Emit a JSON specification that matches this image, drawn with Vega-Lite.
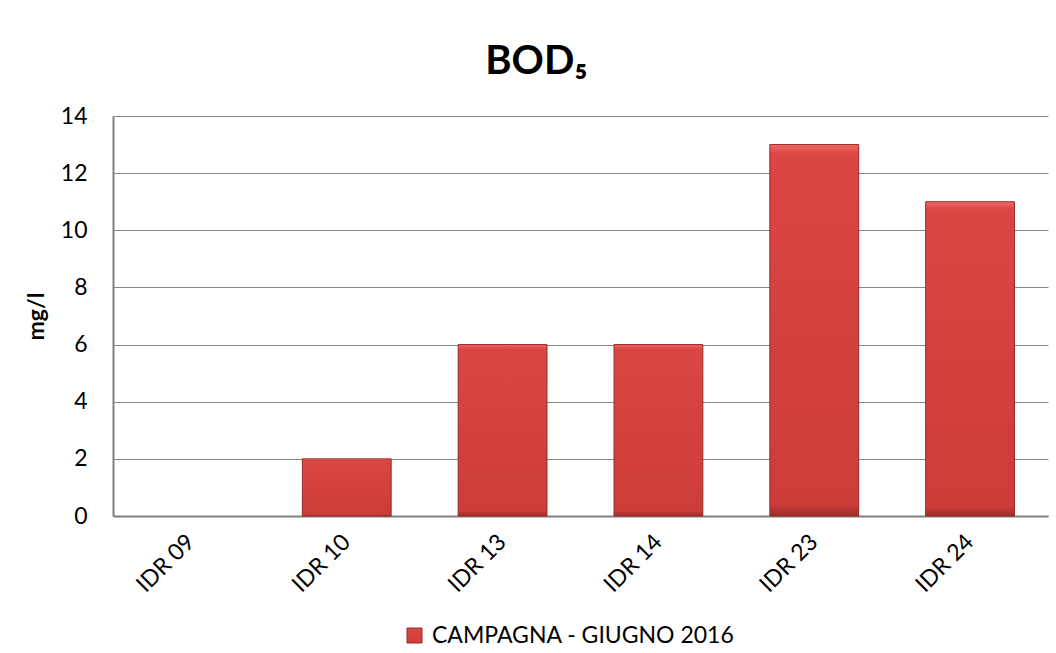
{
  "$schema": "https://vega.github.io/schema/vega-lite/v6.json",
  "autosize": "none",
  "padding": {"left": 113, "top": 116, "right": 8, "bottom": 137},
  "width": 935,
  "height": 400,
  "background": "white",
  "title": {
    "text": "BOD₅",
    "font": "Lato",
    "fontSize": 40,
    "fontWeight": "bold",
    "color": "#000000",
    "anchor": "middle",
    "baseline": "alphabetic",
    "offset": 41,
    "dx": -44,
    "dy": 50
  },
  "data": {
    "values": [
      {"site": "IDR 09", "value": 0, "series": "CAMPAGNA - GIUGNO 2016"},
      {"site": "IDR 10", "value": 2, "series": "CAMPAGNA - GIUGNO 2016"},
      {"site": "IDR 13", "value": 6, "series": "CAMPAGNA - GIUGNO 2016"},
      {"site": "IDR 14", "value": 6, "series": "CAMPAGNA - GIUGNO 2016"},
      {"site": "IDR 23", "value": 13, "series": "CAMPAGNA - GIUGNO 2016"},
      {"site": "IDR 24", "value": 11, "series": "CAMPAGNA - GIUGNO 2016"}
    ]
  },
  "mark": {
    "type": "bar",
    "strokeWidth": 1,
    "fill": {
      "gradient": "linear",
      "x1": 0, "y1": 0, "x2": 0, "y2": 1,
      "stops": [
        {"offset": 0, "color": "#ee6a66"},
        {"offset": 0.025, "color": "#da4643"},
        {"offset": 0.97, "color": "#cc3c39"},
        {"offset": 1, "color": "#9e2b29"}
      ]
    }
  },
  "encoding": {
    "x": {
      "field": "site",
      "type": "nominal",
      "sort": null,
      "scale": {"paddingInner": 0.43, "paddingOuter": 0.215},
      "axis": {
        "title": null,
        "labelAngle": -45,
        "labelAlign": "right",
        "labelBaseline": "middle",
        "labelFont": "Lato",
        "labelFontSize": 23,
        "labelColor": "#000000",
        "labelPadding": 22,
        "ticks": false,
        "domainColor": "#7f7f7f",
        "domainWidth": 2,
        "grid": false
      }
    },
    "y": {
      "field": "value",
      "type": "quantitative",
      "scale": {"domain": [0, 14], "nice": false},
      "axis": {
        "title": "mg/l",
        "titleFont": "Lato",
        "titleFontSize": 23,
        "titleFontWeight": "bold",
        "titleColor": "#000000",
        "titleX": -70,
        "titleBaseline": "alphabetic",
        "values": [0, 2, 4, 6, 8, 10, 12, 14],
        "labelFont": "Lato",
        "labelFontSize": 23,
        "labelColor": "#000000",
        "labelPadding": 26,
        "ticks": false,
        "domainColor": "#7f7f7f",
        "domainWidth": 2,
        "grid": true,
        "gridColor": "#868686",
        "gridWidth": 1
      }
    },
    "strokeOpacity": {
      "condition": {"test": "datum.value == 0", "value": 0},
      "value": 1
    },
    "stroke": {
      "field": "series",
      "type": "nominal",
      "scale": {"range": ["#9a2a28"]},
      "legend": {
        "title": null,
        "orient": "none",
        "legendX": 290,
        "legendY": 508,
        "symbolType": "square",
        "symbolSize": 225,
        "symbolFillColor": "#c93c39",
        "symbolStrokeWidth": 1,
        "labelFont": "Lato",
        "labelFontSize": 23,
        "labelColor": "#000000",
        "labelLimit": 0,
        "labelOffset": 6
      }
    }
  },
  "config": {
    "view": {"stroke": null}
  }
}
